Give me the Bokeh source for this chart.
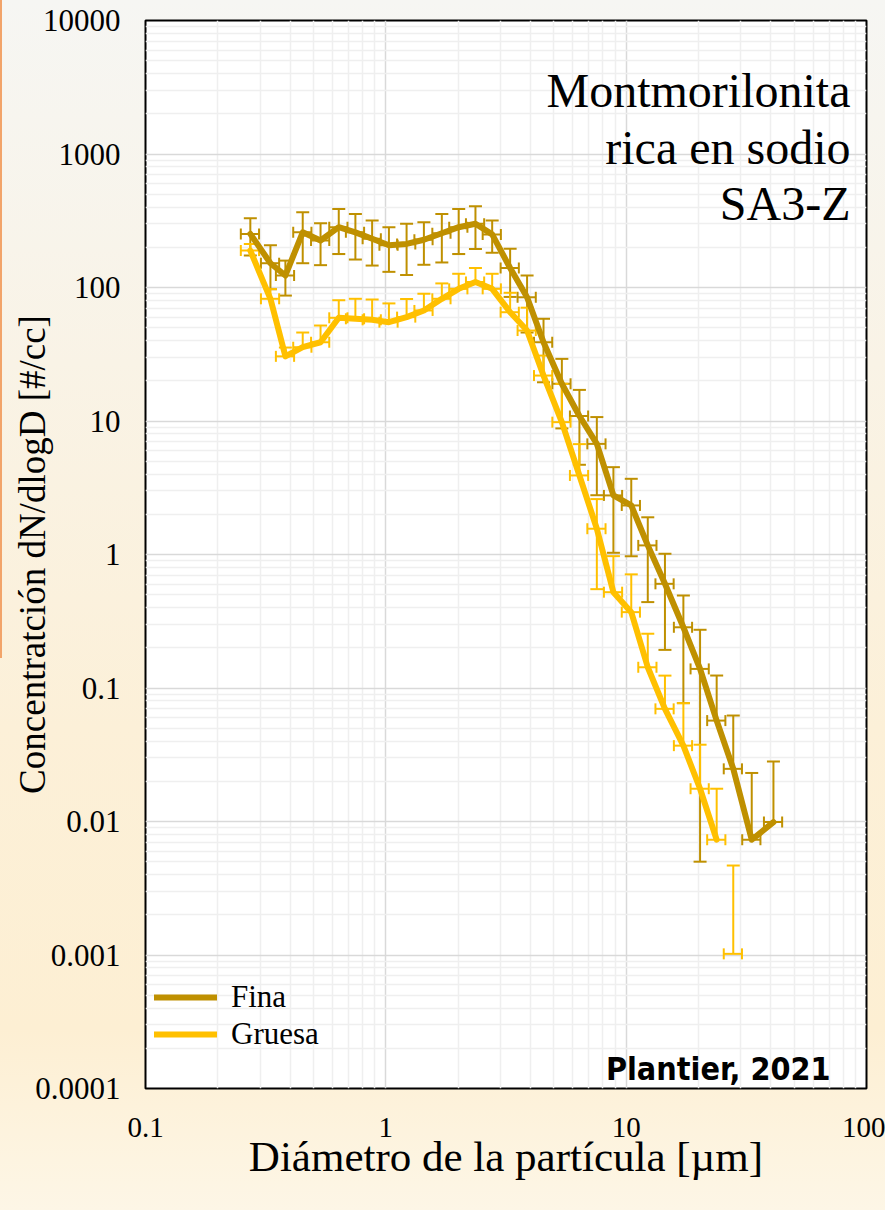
import numpy as np
from bokeh.plotting import figure
from bokeh.models import (ColumnDataSource, Whisker, TeeHead, Label, Legend,
                          LegendItem, FixedTicker)
from bokeh.embed import file_html
from bokeh.resources import INLINE

# ---------------- data ----------------
diameter = [0.273, 0.331, 0.382, 0.451, 0.535, 0.637, 0.747, 0.877, 1.03, 1.22,
            1.44, 1.71, 2.01, 2.36, 2.77, 3.29, 3.87, 4.53, 5.40, 6.39,
            7.55, 8.85, 10.5, 12.3, 14.5, 17.3, 20.3, 23.8, 27.9, 33.3, 41.0]

fina = [252, 152, 123, 259, 225, 283, 259, 232, 207, 212,
        228, 255, 283, 300, 250, 140, 84.5, 38.9, 19.0, 10.9,
        6.74, 2.77, 2.33, 1.17, 0.603, 0.285, 0.139, 0.057, 0.0248, 0.0073, 0.0099]
fina_err = [78, 55, 36, 107, 78, 105, 97, 86, 76, 88,
            80, 101, 105, 106, 68, 55, 38.5, 19.4, 10.2, 6.2,
            3.96, 1.74, 1.36, 0.73, 0.41, 0.208, 0.134, 0.067, 0.0374, 0.0158, 0.0182]

gruesa = [189, 82.3, 30.5, 35.7, 38.9, 59.3, 58.3, 57.3, 55.0, 60.0,
          67.3, 82.3, 97.7, 110, 97.7, 65.3, 47.6, 21.9, 9.8, 3.91,
          1.56, 0.522, 0.37, 0.143, 0.0698, 0.037, 0.0176, 0.0073, 0.00102]
gruesa_err_plus = [23, 15, 5, 10.3, 13, 21, 24, 24, 21, 22,
                   22.5, 25, 29, 30, 29, 26, 23, 9, 9.2, 2.8,
                   1.04, 0.45, 0.34, 0.112, 0.054, 0.040, 0.020, 0.0103, 0.00366]
gruesa_err_minus = [0, 0, 0, 0, 0, 0, 0, 0, 0, 0,
                    0, 0, 0, 0, 0, 0, 0, 0, 0, 0,
                    1.01, 0, 0, 0, 0, 0, 0, 0, 0]
gruesa_line_points = 28          # last Gruesa point is shown only with its error bar

x_err_fraction = 0.087           # horizontal error bars (percentage)

x_ticks = [0.1, 1, 10, 100]
x_tick_labels = ["0.1", "1", "10", "100"]
y_ticks = [0.0001, 0.001, 0.01, 0.1, 1, 10, 100, 1000, 10000]
y_tick_labels = ["0.0001", "0.001", "0.01", "0.1", "1", "10", "100", "1000", "10000"]

title_lines = ["Montmorilonita", "rica en sodio", "SA3-Z"]
x_title = "Diámetro de la partícula [µm]"
y_title = "Concentratción dN/dlogD [#/cc]"
credit = "Plantier, 2021"
series_names = ["Fina", "Gruesa"]
colors = ["#BF9000", "#FFC000"]

# ---------------- figure ----------------
p = figure(width=885, height=1210, x_axis_type="log", y_axis_type="log",
           x_range=(0.1, 100), y_range=(0.0001, 10000),
           output_backend="svg", toolbar_location=None, title=None,
           min_border_left=145, min_border_right=19, min_border_top=20,
           min_border_bottom=122)

p.border_fill_alpha = 0
p.background_fill_color = "white"
p.outline_line_color = "black"
p.outline_line_width = 2
p.styles = {
    "background": "linear-gradient(#F2A46A, #F2A46A) no-repeat 0 0 / 2px 658px, "
                  "linear-gradient(to bottom, #F6F6F3 0%, #F9F3E6 30%, #FCF0D8 60%, "
                  "#FDEFD3 85%, #FDF6E6 100%)"
}

def minor_list(lo_exp, hi_exp):
    out = []
    for e in range(lo_exp, hi_exp):
        for k in range(2, 10):
            out.append(k * 10.0 ** e)
    return out

p.xaxis.ticker = FixedTicker(ticks=x_ticks, minor_ticks=minor_list(-1, 2))
p.yaxis.ticker = FixedTicker(ticks=y_ticks, minor_ticks=minor_list(-4, 4))
p.xaxis.major_label_overrides = dict(zip(x_ticks, x_tick_labels))
p.yaxis.major_label_overrides = dict(zip(y_ticks, y_tick_labels))

for ax in (p.xaxis, p.yaxis):
    ax.axis_line_color = None
    ax.major_tick_line_color = None
    ax.minor_tick_line_color = None
    ax.major_label_text_font = "Liberation Serif"
    ax.major_label_text_color = "black"
    ax.axis_label_text_font = "Liberation Serif"
    ax.axis_label_text_font_style = "normal"
    ax.axis_label_text_color = "black"
p.xaxis.major_label_text_font_size = "29px"
p.yaxis.major_label_text_font_size = "31px"
p.xaxis.major_label_standoff = 23
p.yaxis.major_label_standoff = 19

p.xaxis.axis_label = x_title
p.xaxis.axis_label_text_font_size = "43px"
p.xaxis.axis_label_standoff = -7
p.yaxis.axis_label = y_title
p.yaxis.axis_label_text_font_size = "37px"
p.yaxis.axis_label_standoff = -21

for g in (p.xgrid, p.ygrid):
    g.grid_line_color = "#D9D9D9"
    g.grid_line_width = 1.5
    g.minor_grid_line_color = "#EFEFEF"
    g.minor_grid_line_width = 1.5

# ---------------- series ----------------
def add_series(xs, ys, err_plus, err_minus, color, n_line):
    xs = np.asarray(xs, float)
    ys = np.asarray(ys, float)
    ep = np.asarray(err_plus, float)
    em = np.asarray(err_minus, float)
    r = p.line(xs[:n_line], ys[:n_line], line_width=6, line_color=color,
               line_join="round", line_cap="round")
    up = ColumnDataSource(dict(b=xs, lo=ys, hi=ys + ep))
    p.add_layout(Whisker(source=up, base="b", lower="lo", upper="hi", dimension="height",
                         line_color=color, line_width=2, lower_head=None,
                         upper_head=TeeHead(size=13, line_color=color, line_width=2)))
    mask = (em > 0) & ((ys - em) > 0)
    dn = ColumnDataSource(dict(b=xs[mask], lo=(ys - em)[mask], hi=ys[mask]))
    p.add_layout(Whisker(source=dn, base="b", lower="lo", upper="hi", dimension="height",
                         line_color=color, line_width=2, upper_head=None,
                         lower_head=TeeHead(size=13, line_color=color, line_width=2)))
    hz = ColumnDataSource(dict(b=ys, lo=xs * (1 - x_err_fraction), hi=xs * (1 + x_err_fraction)))
    p.add_layout(Whisker(source=hz, base="b", lower="lo", upper="hi", dimension="width",
                         line_color=color, line_width=2,
                         lower_head=TeeHead(size=11, line_color=color, line_width=2),
                         upper_head=TeeHead(size=11, line_color=color, line_width=2)))
    return r

r_fina = add_series(diameter, fina, fina_err, fina_err, colors[0], len(fina))
r_gruesa = add_series(diameter[:len(gruesa)], gruesa, gruesa_err_plus, gruesa_err_minus,
                      colors[1], gruesa_line_points)

legend = Legend(items=[LegendItem(label=series_names[0], renderers=[r_fina]),
                       LegendItem(label=series_names[1], renderers=[r_gruesa])],
                location=(9, 36), label_text_font="Liberation Serif",
                label_text_font_size="31px", label_text_color="black",
                glyph_width=63, glyph_height=20, label_standoff=14,
                padding=0, margin=0, spacing=1, border_line_color=None,
                background_fill_alpha=0)
p.add_layout(legend)

# ---------------- texts ----------------
for i, t in enumerate(title_lines):
    p.add_layout(Label(x=705, y=998 - 56.5 * i, x_units="screen", y_units="screen",
                       text=t, text_align="right", text_baseline="alphabetic",
                       text_font="Liberation Serif", text_font_size="48px",
                       text_color="black"))

p.add_layout(Label(x=685, y=20, x_units="screen", y_units="screen", text=credit,
                   text_align="right", text_baseline="alphabetic",
                   text_font="DejaVu Sans Condensed", text_font_style="bold",
                   text_font_size="32px", text_color="black"))

open("out.html", "w").write(file_html(p, INLINE))
